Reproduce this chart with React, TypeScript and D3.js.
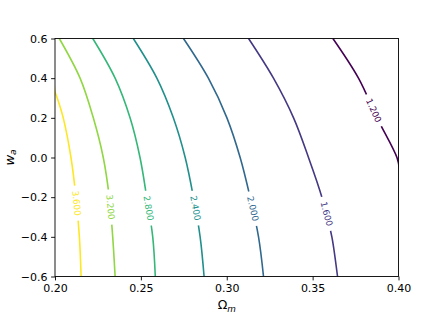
import React, { useEffect, useRef } from "react";
import * as d3 from "d3";

const W = 443;
const H = 317;

// contour levels and the crossing points, [Omega_m, w_a]
const levels = [1.2, 1.6, 2.0, 2.4, 2.8, 3.2, 3.6];
const contour12 = [[0.3618, 0.6], [0.3767, 0.4], [0.3875, 0.2], [0.3991, 0.0], [0.4006, -0.06]];
const contour16 = [[0.3127, 0.6], [0.3272, 0.4], [0.3389, 0.2], [0.3476, 0.0], [0.3554, -0.2], [0.3612, -0.4], [0.3645, -0.6]];
const contour20 = [[0.2748, 0.6], [0.2893, 0.4], [0.3001, 0.2], [0.3078, 0.0], [0.3136, -0.2], [0.3185, -0.4], [0.3214, -0.6]];
const contour24 = [[0.2456, 0.6], [0.2593, 0.4], [0.2689, 0.2], [0.2758, 0.0], [0.2806, -0.2], [0.2845, -0.4], [0.2868, -0.6]];
const contour28 = [[0.2220, 0.6], [0.2350, 0.4], [0.2437, 0.2], [0.2495, 0.0], [0.2534, -0.2], [0.2569, -0.4], [0.2584, -0.6]];
const contour32 = [[0.2025, 0.6], [0.2146, 0.4], [0.2223, 0.2], [0.2281, 0.0], [0.2316, -0.2], [0.2336, -0.4], [0.2350, -0.6]];
const contour36 = [[0.1996, 0.36], [0.2, 0.332], [0.2013, 0.3], [0.2048, 0.2], [0.2093, 0.0], [0.2122, -0.2], [0.2142, -0.4], [0.2152, -0.6]];
const contours = [contour12, contour16, contour20, contour24, contour28, contour32, contour36];
// w_a where the inline label of each level sits
const labelWa = [0.237, -0.284, -0.258, -0.255, -0.255, -0.25, -0.23];

const xTicks = [0.2, 0.25, 0.3, 0.35, 0.4];
const yTicks = [-0.6, -0.4, -0.2, 0.0, 0.2, 0.4, 0.6];

const FONT = "DejaVu Sans, sans-serif";

export default function App() {
  const ref = useRef<SVGSVGElement>(null);

  useEffect(() => {
    const svg = d3.select(ref.current);
    svg.selectAll("*").remove();

    const margin = { left: 55, right: 44.5, top: 38.5, bottom: 40.5 };
    const x = d3.scaleLinear().domain([0.2, 0.4]).range([margin.left, W - margin.right]);
    const y = d3.scaleLinear().domain([-0.6, 0.6]).range([H - margin.bottom, margin.top]);
    const color = d3.scaleSequential(d3.interpolateViridis).domain([1.2, 3.6]);

    svg.append("defs").append("clipPath").attr("id", "plotclip")
      .append("rect")
      .attr("x", x(0.2)).attr("y", y(0.6))
      .attr("width", x(0.4) - x(0.2)).attr("height", y(-0.6) - y(0.6));

    const plot = svg.append("g").attr("clip-path", "url(#plotclip)");
    const line = d3.line<number[]>()
      .x(d => x(d[0]))
      .y(d => y(d[1]))
      .curve(d3.curveCatmullRom.alpha(0.5));

    contours.forEach((pts, i) => {
      const lev = levels[i];
      const c = color(lev);
      const path = plot.append("path")
        .attr("d", line(pts))
        .attr("fill", "none")
        .attr("stroke", c)
        .attr("stroke-width", 1.6);

      // find point on the path at label height
      const node = path.node() as SVGPathElement;
      const total = node.getTotalLength();
      const ty = y(labelWa[i]);
      let lo = 0, hi = total;
      for (let k = 0; k < 40; k++) {
        const mid = (lo + hi) / 2;
        if (node.getPointAtLength(mid).y < ty) lo = mid; else hi = mid;
      }
      const p = node.getPointAtLength(lo);
      const p1 = node.getPointAtLength(Math.max(0, lo - 4));
      const p2 = node.getPointAtLength(Math.min(total, lo + 4));
      const ang = Math.atan2(p2.y - p1.y, p2.x - p1.x) * 180 / Math.PI;

      const lab = svg.append("g").attr("transform", `translate(${p.x},${p.y}) rotate(${ang})`);
      const bg = lab.append("rect").attr("fill", "white");
      const txt = lab.append("text")
        .attr("text-anchor", "middle")
        .attr("dominant-baseline", "central")
        .attr("font-family", FONT)
        .attr("font-size", 8.8)
        .attr("fill", c)
        .text(d3.format(".3f")(lev));
      const len = (txt.node() as SVGTextElement).getComputedTextLength();
      bg.attr("x", -len / 2 - 5).attr("y", -3).attr("width", len + 10).attr("height", 6);
    });

    // spines
    svg.append("rect")
      .attr("x", x(0.2)).attr("y", y(0.6))
      .attr("width", x(0.4) - x(0.2)).attr("height", y(-0.6) - y(0.6))
      .attr("fill", "none").attr("stroke", "black").attr("stroke-width", 0.9);

    const xAxis = svg.append("g")
      .attr("transform", `translate(0,${y(-0.6)})`)
      .call(d3.axisBottom(x).tickValues(xTicks).tickFormat(d3.format(".2f")).tickSize(3.9).tickPadding(3.6));
    const yAxis = svg.append("g")
      .attr("transform", `translate(${x(0.2)},0)`)
      .call(d3.axisLeft(y).tickValues(yTicks).tickFormat(d3.format(".1f")).tickSize(3.9).tickPadding(3.6));
    [xAxis, yAxis].forEach(a => {
      a.select(".domain").remove();
      a.selectAll("line").attr("stroke", "black").attr("stroke-width", 0.9);
      a.selectAll("text").attr("font-family", FONT).attr("font-size", 11).attr("fill", "black");
    });

    // axis labels
    const xl = svg.append("text")
      .attr("x", (x(0.2) + x(0.4)) / 2).attr("y", 309.3)
      .attr("text-anchor", "middle")
      .attr("font-family", FONT).attr("font-size", 12.5).attr("fill", "black");
    xl.append("tspan").text("Ω");
    xl.append("tspan").attr("font-style", "italic").attr("font-size", 8.8).attr("dy", 2.6).text("m");

    const yl = svg.append("text")
      .attr("transform", `translate(13.5,${(y(0.6) + y(-0.6)) / 2}) rotate(-90)`)
      .attr("text-anchor", "middle")
      .attr("font-family", FONT).attr("font-size", 13).attr("fill", "black");
    yl.append("tspan").attr("font-style", "italic").text("w");
    yl.append("tspan").attr("font-style", "italic").attr("font-size", 9.1).attr("dy", 2.2).text("a");
  }, []);

  return (
    <svg ref={ref} width={W} height={H}
      style={{ position: "absolute", left: 0, top: 0, background: "white" }} />
  );
}
